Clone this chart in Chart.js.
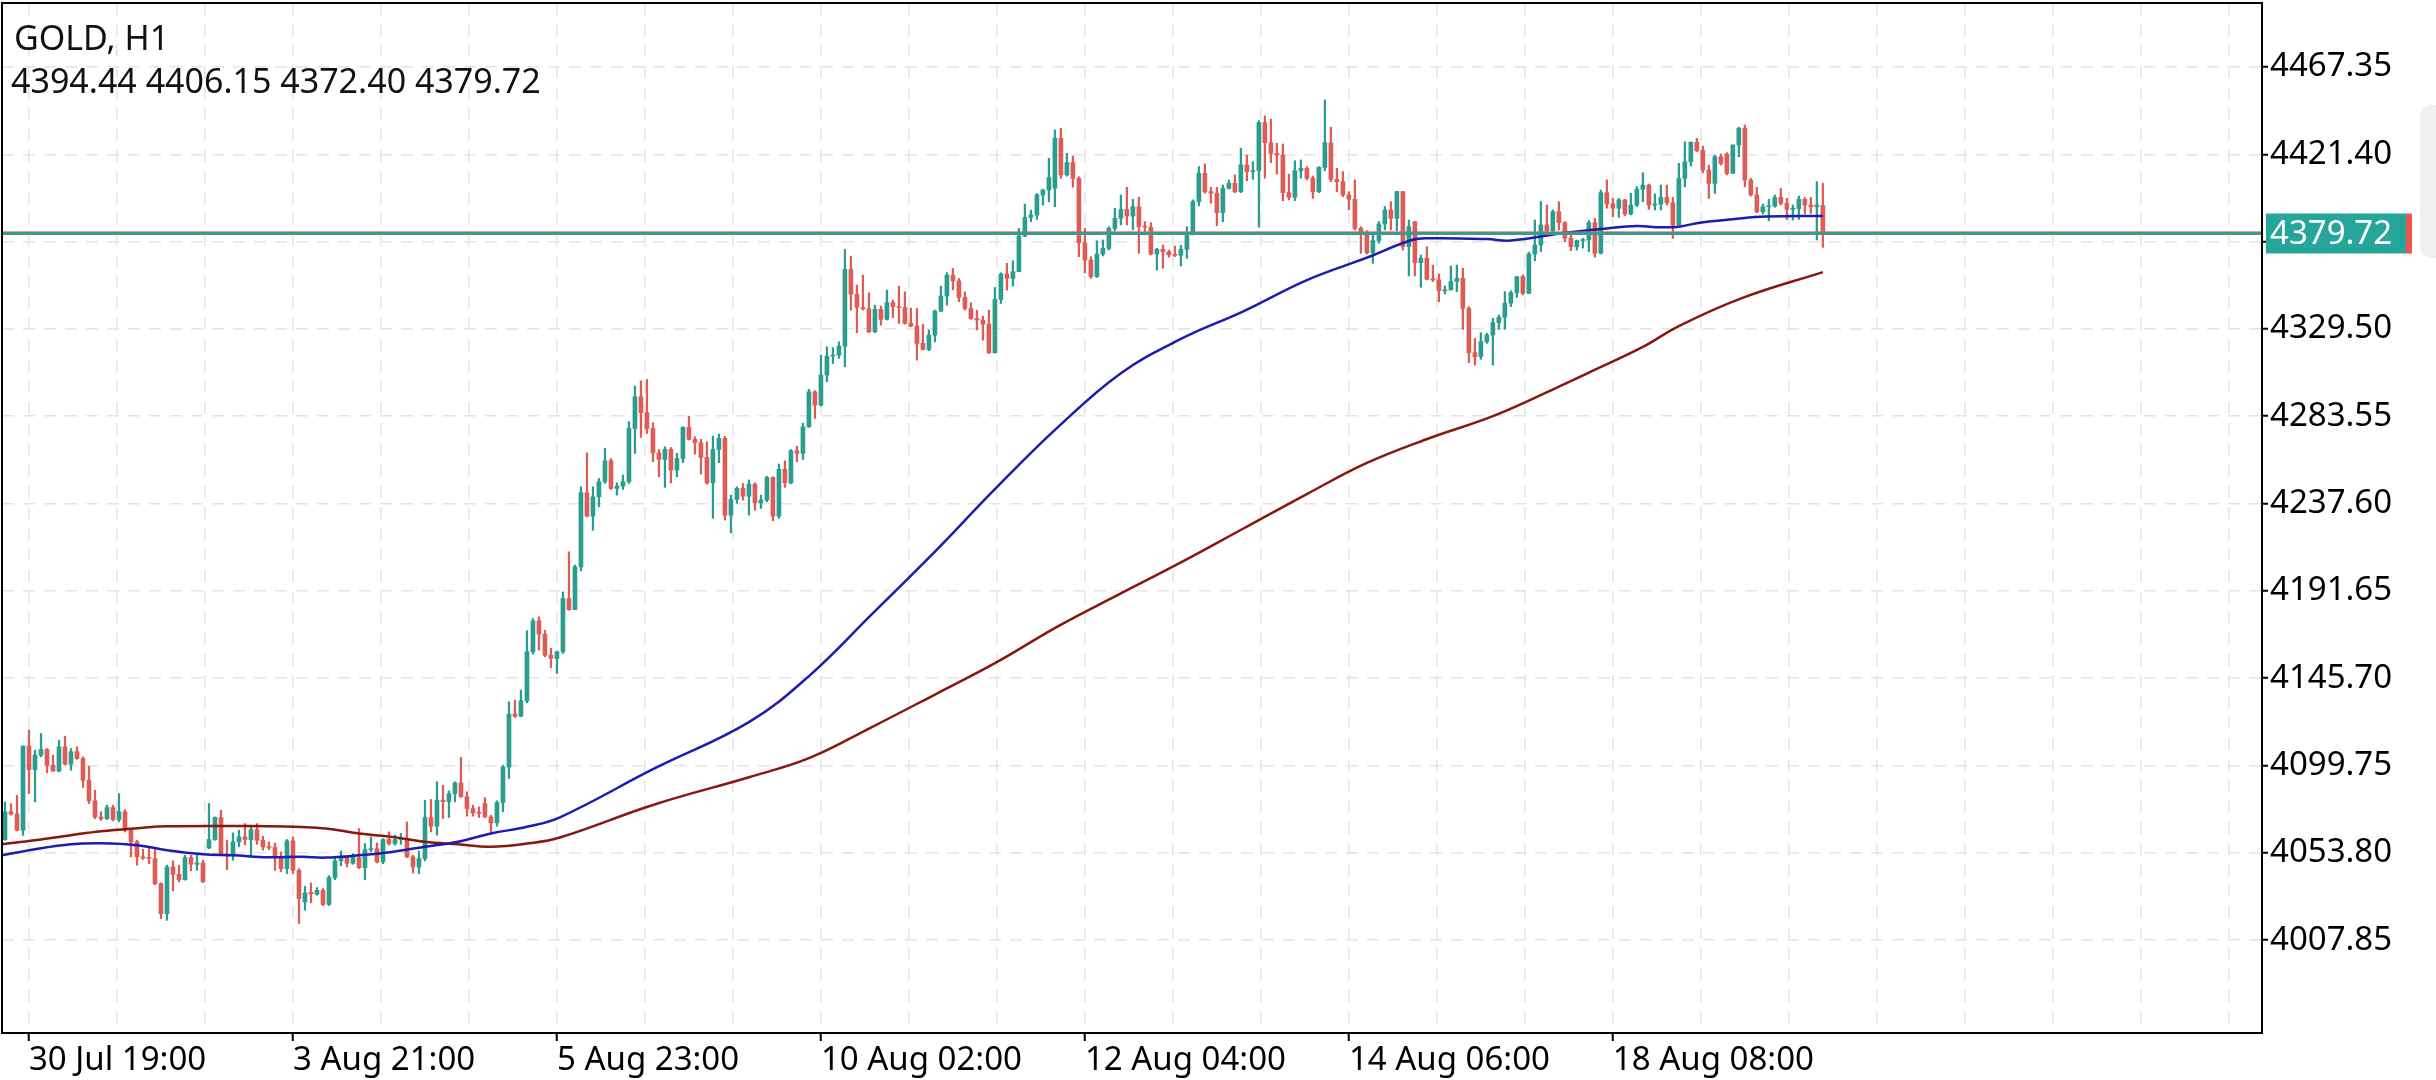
<!DOCTYPE html>
<html>
<head>
<meta charset="utf-8">
<title>GOLD, H1</title>
<script src="https://cdn.jsdelivr.net/npm/chart.js@4.4.1/dist/chart.umd.min.js"></script>
<style>
  html, body { margin: 0; padding: 0; background: #fff; }
  #wrap { width: 2436px; height: 1080px; }
</style>
</head>
<body>
<div id="wrap"><canvas id="goldChart" width="2436" height="1080"></canvas></div>
<script>
// GOLD H1 candles (index 0 = first visible hour)
const closes = [
  4075.4, 4074.3, 4065.7, 4110.0, 4097.6, 4105.2, 4108.2, 4099.9, 4096.8, 4109.6,
  4100.5, 4107.0, 4103.4, 4092.0, 4081.2, 4072.7, 4071.8, 4077.6, 4071.3, 4075.4,
  4065.7, 4059.6, 4051.7, 4051.0, 4050.8, 4037.6, 4021.8, 4046.4, 4042.5, 4039.7,
  4051.3, 4047.8, 4048.5, 4038.5, 4060.8, 4072.4, 4053.4, 4052.5, 4059.6, 4062.2,
  4060.8, 4066.0, 4060.4, 4056.9, 4056.6, 4051.7, 4045.5, 4060.1, 4044.6, 4029.7,
  4032.7, 4032.3, 4034.1, 4026.7, 4040.8, 4049.6, 4051.6, 4048.3, 4051.3, 4046.0,
  4055.5, 4056.0, 4049.0, 4060.8, 4058.7, 4060.8, 4061.4, 4051.7, 4046.4, 4050.8,
  4072.4, 4067.8, 4081.5, 4080.8, 4085.0, 4090.6, 4083.3, 4077.1, 4074.8, 4074.6,
  4072.7, 4069.6, 4080.3, 4099.0, 4126.8, 4125.7, 4133.8, 4159.6, 4175.9, 4168.9,
  4157.8, 4156.1, 4159.6,
  4187.6, 4181.8, 4204.3, 4243.3, 4231.0, 4241.2, 4249.1, 4260.1, 4245.6, 4246.8,
  4249.1, 4277.1, 4293.8, 4285.4, 4277.1, 4264.3, 4260.8, 4266.1, 4255.2, 4261.3,
  4277.7, 4271.4, 4269.6, 4261.9, 4248.5, 4266.1, 4271.9, 4231.5, 4239.8, 4245.6,
  4241.5, 4247.8, 4238.0, 4239.4, 4251.3, 4231.0, 4255.6, 4248.5, 4265.4, 4264.0,
  4278.0, 4296.4, 4289.4, 4305.2, 4315.2,
  4315.7, 4320.4, 4360.8, 4347.8, 4340.8, 4340.1, 4328.0, 4339.8, 4334.5, 4343.3,
  4341.2, 4340.8, 4332.4, 4331.0, 4321.9, 4318.7, 4326.2, 4338.9, 4346.8, 4357.8,
  4354.8, 4346.1, 4340.3, 4335.0, 4334.2, 4332.0, 4316.9, 4345.0, 4358.4, 4356.1,
  4359.6, 4378.4, 4388.2, 4389.4, 4400.0, 4402.6, 4409.2, 4429.8, 4410.5, 4417.0,
  4408.7, 4374.8, 4365.7, 4357.0, 4368.9,
  4371.9, 4382.4, 4387.7, 4392.4, 4388.9, 4393.8, 4383.3, 4383.0, 4368.9, 4371.4,
  4370.1, 4368.4, 4368.2, 4371.4, 4379.8, 4396.5, 4411.4, 4401.7, 4400.9, 4390.7,
  4403.5, 4406.1, 4401.7, 4415.8, 4412.3, 4412.8, 4438.1, 4427.5, 4421.9, 4421.0,
  4401.2, 4398.8, 4412.8, 4414.0, 4408.8, 4401.7, 4414.5, 4427.5, 4408.2, 4407.0,
  4400.0, 4397.7, 4382.4, 4380.2, 4369.6,
  4376.0, 4384.7, 4392.1, 4387.7, 4401.8, 4372.8, 4383.3, 4364.4, 4366.7, 4355.6,
  4355.3, 4349.6, 4350.0, 4354.4, 4356.1, 4340.3, 4317.0, 4314.9, 4322.8, 4326.3,
  4332.8, 4335.6, 4343.0, 4348.6, 4357.0, 4348.2, 4368.9, 4373.7, 4384.2, 4381.2,
  4391.2, 4385.4, 4377.2, 4372.8, 4376.0, 4376.3, 4385.4, 4369.3, 4401.2, 4395.3,
  4393.0, 4397.4, 4390.0, 4394.7, 4403.0,
  4405.2, 4394.7, 4395.2, 4398.7, 4395.9, 4384.2, 4408.7, 4417.5, 4427.7, 4423.3,
  4413.1, 4406.1, 4420.1, 4416.6, 4411.4, 4426.3, 4435.1, 4407.8, 4400.0, 4391.2,
  4393.8, 4394.1, 4398.7, 4395.6, 4392.4, 4392.8, 4397.7, 4394.7, 4393.8, 4394.7,
  4379.72
];

const highs = [
  4080.6, 4079.7, 4084.1, 4110.0, 4118.4, 4107.8, 4116.6, 4108.7, 4105.2, 4113.1,
  4115.2, 4108.7, 4109.6, 4104.3, 4099.4, 4086.8, 4075.5, 4078.9, 4078.9, 4085.0,
  4076.6, 4065.7, 4060.4, 4055.7, 4056.9, 4056.0, 4038.0, 4047.3, 4049.6, 4047.3,
  4052.5, 4052.5, 4052.5, 4049.9, 4079.8, 4072.7, 4076.2, 4060.4, 4064.3, 4065.7,
  4069.2, 4067.5, 4069.2, 4062.5, 4059.6, 4059.0, 4054.3, 4060.8, 4062.2, 4045.5,
  4036.2, 4038.0, 4035.5, 4035.0, 4041.8, 4052.0, 4054.8, 4051.7, 4053.4, 4066.6,
  4058.7, 4062.2, 4059.0, 4061.3, 4064.8, 4063.1, 4064.0, 4070.1, 4052.6, 4054.8,
  4081.5, 4081.9, 4091.2, 4089.4, 4086.4, 4091.2, 4104.0, 4085.9, 4078.9, 4078.0,
  4082.9, 4073.6, 4081.2, 4099.9, 4133.3, 4134.1, 4139.4, 4170.7, 4177.1, 4178.0,
  4171.0, 4161.4, 4160.0,
  4191.1, 4212.2, 4205.2, 4246.4, 4264.3, 4246.4, 4250.8, 4266.6, 4261.3, 4248.5,
  4252.6, 4280.7, 4299.4, 4302.2, 4302.9, 4280.1, 4266.0, 4267.5, 4267.1, 4264.0,
  4278.0, 4283.6, 4272.8, 4271.4, 4270.1, 4273.1, 4274.2, 4273.0, 4242.0, 4246.4,
  4248.2, 4250.0, 4248.5, 4242.0, 4252.0, 4251.7, 4258.4, 4260.1, 4266.0, 4267.8,
  4279.8, 4297.7, 4297.0, 4315.7, 4320.1,
  4319.7, 4322.7, 4371.3, 4367.8, 4352.6, 4357.8, 4348.5, 4342.0, 4341.5, 4349.9,
  4344.7, 4352.0, 4349.0, 4340.4, 4340.3, 4332.0, 4328.9, 4339.4, 4352.0, 4359.1,
  4361.3, 4356.1, 4349.0, 4343.3, 4339.4, 4336.2, 4339.4, 4351.3, 4359.0, 4364.0,
  4365.4, 4382.4, 4395.2, 4392.0, 4400.8, 4403.0, 4419.3, 4434.2, 4435.0, 4421.9,
  4420.5, 4409.6, 4382.4, 4367.5, 4375.9,
  4376.3, 4383.3, 4393.0, 4400.0, 4404.0, 4397.7, 4398.8, 4386.0, 4385.4, 4371.9,
  4373.7, 4371.0, 4373.1, 4373.5, 4383.3, 4397.4, 4414.9, 4416.3, 4404.0, 4404.0,
  4405.2, 4407.9, 4410.5, 4424.6, 4421.0, 4417.5, 4439.1, 4441.6, 4439.8, 4427.2,
  4426.8, 4411.0, 4418.0, 4418.4, 4414.9, 4410.0, 4414.9, 4450.0, 4435.6, 4414.0,
  4412.3, 4401.7, 4407.9, 4383.3, 4381.2,
  4379.8, 4386.0, 4393.9, 4396.5, 4401.8, 4401.8, 4386.8, 4386.0, 4368.4, 4372.8,
  4363.1, 4358.4, 4352.1, 4362.6, 4363.1, 4361.4, 4341.2, 4324.5, 4327.5, 4327.2,
  4335.1, 4336.8, 4349.1, 4349.6, 4357.0, 4357.9, 4369.9, 4386.8, 4396.5, 4394.7,
  4392.1, 4396.5, 4385.9, 4379.8, 4376.3, 4377.2, 4386.5, 4387.7, 4402.6, 4407.9,
  4398.2, 4398.2, 4397.7, 4400.9, 4404.4,
  4411.7, 4405.7, 4400.5, 4405.2, 4405.2, 4398.7, 4416.6, 4428.0, 4428.0, 4429.8,
  4425.7, 4415.7, 4421.0, 4421.5, 4422.2, 4426.3, 4435.6, 4436.8, 4408.7, 4404.0,
  4395.2, 4397.7, 4400.0, 4403.5, 4398.2, 4394.7, 4399.4, 4398.7, 4398.7, 4407.0,
  4406.15
];

const lows = [
  4060.4, 4073.6, 4065.3, 4063.0, 4085.0, 4080.6, 4104.3, 4095.9, 4096.7, 4096.4,
  4100.0, 4097.3, 4103.0, 4088.2, 4079.7, 4071.8, 4070.9, 4071.3, 4070.6, 4070.1,
  4064.8, 4051.6, 4047.3, 4050.3, 4048.1, 4037.0, 4019.2, 4018.3, 4033.8, 4038.5,
  4039.4, 4044.3, 4044.6, 4038.2, 4056.0, 4060.4, 4053.1, 4045.0, 4049.9, 4057.0,
  4058.0, 4052.0, 4058.3, 4055.2, 4055.5, 4044.6, 4043.8, 4042.9, 4042.9, 4016.6,
  4023.6, 4027.5, 4031.5, 4026.0, 4026.0, 4039.7, 4047.0, 4046.4, 4047.8, 4045.5,
  4039.7, 4054.3, 4048.5, 4048.1, 4057.9, 4057.8, 4058.3, 4051.3, 4043.2, 4042.9,
  4049.6, 4064.8, 4063.1, 4071.9, 4072.4, 4080.6, 4083.0, 4073.1, 4073.1, 4072.4,
  4072.4, 4063.9, 4067.8, 4075.4, 4092.9, 4125.0, 4125.4, 4132.7, 4158.4, 4160.5,
  4157.0, 4151.3, 4148.2,
  4158.7, 4181.5, 4181.8, 4202.2, 4230.6, 4223.6, 4235.9, 4248.2, 4245.0, 4242.0,
  4245.0, 4248.2, 4264.0, 4272.4, 4274.5, 4259.6, 4251.7, 4246.1, 4248.5, 4251.7,
  4259.1, 4271.0, 4263.6, 4253.1, 4247.8, 4229.8, 4259.1, 4228.9, 4222.2, 4237.7,
  4239.4, 4231.5, 4234.1, 4235.0, 4238.6, 4228.5, 4229.8, 4246.1, 4248.0, 4259.6,
  4260.8, 4277.7, 4282.4, 4288.9, 4301.7,
  4311.3, 4314.0, 4309.6, 4339.4, 4327.5, 4339.4, 4327.5, 4327.5, 4331.5, 4334.2,
  4335.5, 4332.4, 4332.0, 4330.6, 4313.1, 4318.4, 4318.0, 4322.7, 4338.5, 4342.0,
  4350.0, 4343.8, 4339.4, 4334.5, 4328.9, 4323.6, 4316.6, 4316.9, 4342.9, 4349.9,
  4352.0, 4359.6, 4378.0, 4385.9, 4387.1, 4394.7, 4396.4, 4393.8, 4408.7, 4409.9,
  4404.0, 4367.5, 4359.0, 4356.1, 4356.6,
  4367.9, 4371.0, 4381.2, 4384.2, 4384.2, 4381.6, 4369.3, 4379.0, 4368.4, 4360.5,
  4361.4, 4367.2, 4367.5, 4362.6, 4366.6, 4378.9, 4394.2, 4400.9, 4395.6, 4383.7,
  4385.9, 4403.0, 4401.2, 4401.2, 4407.5, 4408.2, 4383.0, 4408.8, 4417.0, 4411.0,
  4397.0, 4397.4, 4397.0, 4408.8, 4407.9, 4398.2, 4401.2, 4412.8, 4407.0, 4401.7,
  4399.1, 4392.1, 4381.6, 4369.3, 4368.9,
  4364.0, 4374.6, 4381.6, 4381.6, 4381.2, 4371.0, 4357.4, 4357.4, 4351.4, 4355.3,
  4354.4, 4343.8, 4347.9, 4350.0, 4349.1, 4329.3, 4311.7, 4310.5, 4313.5, 4321.9,
  4310.5, 4329.3, 4329.3, 4341.2, 4346.1, 4347.4, 4348.2, 4365.4, 4370.2, 4378.9,
  4379.8, 4381.6, 4375.4, 4370.7, 4371.0, 4372.0, 4370.2, 4367.2, 4368.9, 4393.0,
  4388.6, 4388.2, 4389.0, 4389.5, 4393.8,
  4396.4, 4392.4, 4392.1, 4392.1, 4394.7, 4377.1, 4384.2, 4404.3, 4415.2, 4422.8,
  4411.7, 4398.2, 4400.8, 4415.7, 4410.5, 4411.4, 4420.1, 4404.3, 4399.4, 4390.6,
  4390.0, 4386.4, 4393.5, 4394.7, 4387.1, 4386.8, 4387.1, 4390.0, 4390.3, 4376.3,
  4372.40
];

// an hour opens at the previous close, except these gapped hours
const gapOpens = { 0: 4060.8, 34: 4056.4, 50: 4028.0, 51: 4033.0, 52: 4032.0, 64: 4061.0,
  80: 4079.8, 92: 4156.0, 175: 4403.5, 235: 4385.9, 287: 4421.5, 303: 4394.44 };

// moving averages, sampled along the candle index
const maFastIdx = [-0.5, 5, 11, 16, 22, 27, 33, 38, 44, 49.5, 53.5, 59, 64.5, 70, 75.5, 81, 87, 92.5,
  108, 124, 134, 144.5, 155, 165, 175.5, 186, 196, 206.5, 217, 227, 234.5, 237.5, 247, 251, 260,
  267, 272, 276, 279, 282.5, 288, 293.5, 303];
const maFast = [4052.5, 4055.7, 4058.3, 4058.8, 4057.8, 4055.2, 4053.1, 4052.5, 4051.5, 4051.7,
  4051.3, 4052.5, 4054.3, 4057.0, 4059.6, 4064.0, 4067.5, 4072.5, 4097.8, 4122.6, 4146.8, 4179.4,
  4212.3, 4245.2, 4277.8, 4306.2, 4324.2, 4338.9, 4355.2, 4367.0, 4376.3, 4377.2, 4376.8, 4376.0,
  4380.1, 4382.4, 4383.6, 4383.0, 4383.3, 4385.4, 4387.2, 4388.6, 4388.9];
const maSlowIdx = [-0.5, 5, 11, 16, 22, 27, 44, 49.5, 53.5, 59, 64.5, 70, 75.5, 81, 87, 92.5,
  108, 124, 134, 144.5, 155, 165, 175.5, 186, 196, 206.5, 217, 227, 237.5, 248, 258.5, 264,
  273, 279, 289.5, 303];
const maSlow = [4058.3, 4060.4, 4063.1, 4065.2, 4066.8, 4067.8, 4067.8, 4067.4, 4066.6, 4064.0,
  4062.2, 4059.6, 4058.3, 4057.0, 4058.7, 4061.9, 4079.0, 4093.6, 4103.6, 4120.0, 4137.1, 4153.6,
  4173.0, 4190.3, 4206.6, 4224.6, 4242.6, 4259.0, 4272.1, 4283.6, 4298.4, 4306.5, 4320.0, 4331.0,
  4345.7, 4359.4];

const timeLabels = ['30 Jul 19:00', '3 Aug 21:00', '5 Aug 23:00', '10 Aug 02:00',
  '12 Aug 04:00', '14 Aug 06:00', '18 Aug 08:00'];
const timeLabelIdx = [4, 48, 92, 136, 180, 224, 268];
const priceTicks = [4007.85, 4053.80, 4099.75, 4145.70, 4191.65, 4237.60, 4283.55, 4329.50,
  4375.45, 4421.40, 4467.35];
const lastPrice = 4379.72;
const headerLines = ['GOLD, H1', '4394.44 4406.15 4372.40 4379.72'];

const UP = '#2a9d8f';
const DOWN = '#dc5d57';
const FONT = '"Noto Sans", "DejaVu Sans", sans-serif';

const opens = closes.map((c, i) => (i in gapOpens ? gapOpens[i] : closes[i - 1]));
const candleColor = closes.map((c, i) => (c >= opens[i] ? UP : DOWN));

const wicks = closes.map((c, i) => ({ x: i, y: [lows[i], highs[i]] }));
const bodies = closes.map((c, i) => ({ x: i, y: [opens[i], c] }));

// header, frame, last price line and its label
const overlayPlugin = {
    id: 'overlay',
    afterDatasetsDraw(chart) {
        const ctx = chart.ctx;
        const area = chart.chartArea;
        const y = Math.round(chart.scales.y.getPixelForValue(lastPrice));
        ctx.save();
        ctx.fillStyle = 'rgba(220,93,87,0.6)';
        ctx.fillRect(area.left, y - 2, area.right - area.left, 1);
        ctx.fillStyle = '#3d998e';
        ctx.fillRect(area.left, y - 1, area.right - area.left, 3);
        ctx.restore();
    },
    afterDraw(chart) {
        const ctx = chart.ctx;
        const area = chart.chartArea;
        const y = chart.scales.y.getPixelForValue(lastPrice);
        ctx.save();
        // frame
        ctx.strokeStyle = '#000';
        ctx.lineWidth = 2;
        ctx.strokeRect(area.left, area.top, area.right - area.left, area.bottom - area.top);
        // price label
        ctx.fillStyle = '#26a69a';
        ctx.fillRect(area.right + 4, y - 20, 140, 40);
        ctx.fillStyle = '#ef5350';
        ctx.fillRect(area.right + 144, y - 20, 6, 40);
        ctx.fillStyle = '#fff';
        ctx.font = '33px ' + FONT;
        ctx.textBaseline = 'middle';
        ctx.fillText(lastPrice.toFixed(2), area.right + 8, y + 1);
        // side handle
        ctx.fillStyle = '#f0f0f0';
        ctx.beginPath();
        ctx.roundRect(2420, 105, 40, 153, 12);
        ctx.fill();
        // header
        ctx.fillStyle = '#111';
        ctx.textBaseline = 'alphabetic';
        ctx.font = '34px ' + FONT;
        ctx.fillText(headerLines[0], 14, 50);
        ctx.fillText(headerLines[1], 11, 93);
        ctx.restore();
    }
};

const ctx = document.getElementById('goldChart').getContext('2d');
new Chart(ctx, {
    type: 'bar',
    data: {
        datasets: [
            {
                type: 'line',
                data: maSlowIdx.map((x, i) => ({ x: x, y: maSlow[i] })),
                borderColor: '#86180f',
                borderWidth: 2.5,
                pointRadius: 0,
                tension: 0.4,
                order: 1
            },
            {
                type: 'line',
                data: maFastIdx.map((x, i) => ({ x: x, y: maFast[i] })),
                borderColor: '#1c1cae',
                borderWidth: 2.5,
                pointRadius: 0,
                tension: 0.4,
                order: 0
            },
            {
                data: wicks,
                backgroundColor: candleColor,
                barThickness: 1.6,
                grouped: false,
                order: 3
            },
            {
                data: bodies,
                backgroundColor: candleColor,
                barThickness: 4,
                minBarLength: 1,
                grouped: false,
                order: 2
            }
        ]
    },
    options: {
        responsive: false,
        animation: false,
        devicePixelRatio: 1,
        layout: { padding: { left: 2, top: 3, right: 0, bottom: 0 } },
        plugins: {
            legend: { display: false },
            tooltip: { enabled: false }
        },
        scales: {
            x: {
                type: 'linear',
                offset: false,
                min: -0.5,
                max: 376.2,
                afterBuildTicks(scale) {
                    const step = (timeLabelIdx[1] - timeLabelIdx[0]) / 3;
                    const ticks = [];
                    for (let k = 0; ; k++) {
                        const v = timeLabelIdx[0] + k * step;
                        if (v > scale.max) break;
                        const j = timeLabelIdx.findIndex(t => Math.abs(t - v) < 1);
                        ticks.push({ value: j >= 0 ? timeLabelIdx[j] : v });
                    }
                    scale.ticks = ticks;
                },
                afterFit(scale) {
                    scale.height = 47;
                    scale.paddingLeft = 0;
                    scale.paddingRight = 0;
                },
                ticks: {
                    autoSkip: false,
                    maxRotation: 0,
                    align: 'start',
                    padding: 0,
                    color: '#000',
                    font: { size: 33, family: FONT },
                    callback(value) {
                        const j = timeLabelIdx.indexOf(value);
                        return j >= 0 ? timeLabels[j] : '';
                    }
                },
                grid: {
                    offset: false,
                    color: '#e4e4e4',
                    lineWidth: 1.5,
                    tickLength: 8,
                    tickWidth: 2,
                    tickColor(c) {
                        return c.tick && timeLabelIdx.includes(c.tick.value) ? '#000' : 'rgba(0,0,0,0)';
                    }
                },
                border: { color: '#000', width: 2, dash: [12, 9] }
            },
            y: {
                position: 'right',
                min: 3959,
                max: 4501,
                afterBuildTicks(scale) {
                    scale.ticks = priceTicks.map(v => ({ value: v }));
                },
                afterFit(scale) {
                    scale.width = 174;
                    scale.paddingTop = 0;
                    scale.paddingBottom = 0;
                },
                ticks: {
                    padding: 2,
                    color: '#000',
                    font: { size: 33, family: FONT },
                    callback: value => value.toFixed(2)
                },
                grid: {
                    color: '#e4e4e4',
                    lineWidth: 1.5,
                    tickLength: 6,
                    tickWidth: 2,
                    tickColor: '#000'
                },
                border: { color: '#000', width: 2, dash: [12, 9] }
            }
        }
    },
    plugins: [overlayPlugin]
});
</script>
</body>
</html>
